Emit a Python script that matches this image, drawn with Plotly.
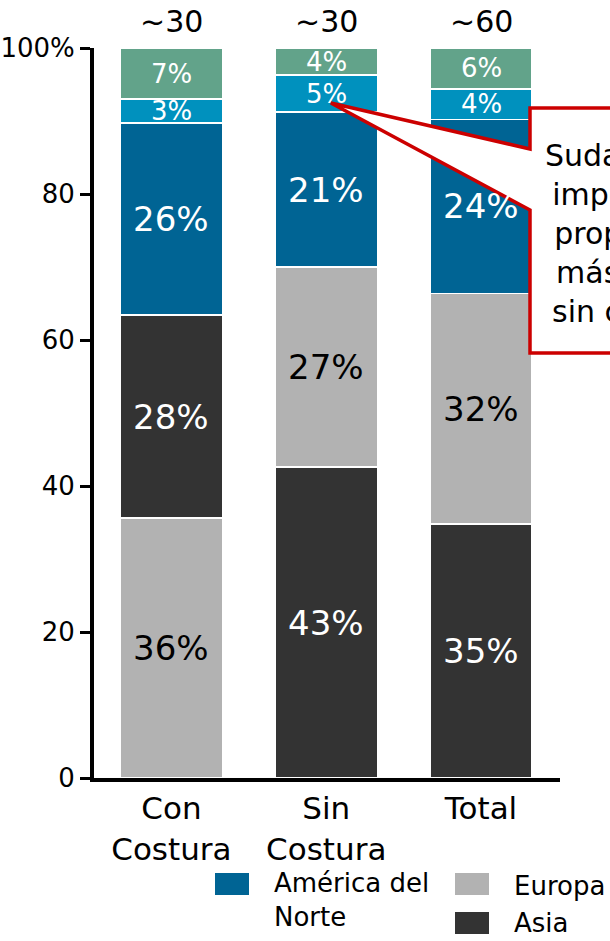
import plotly.graph_objects as go

# --- data -------------------------------------------------------------
categories = ["Con<br>Costura", "Sin<br>Costura", "Total"]
volumes = ["~30", "~30", "~60"]

asia = [27.8, 42.6, 34.8]
europa = [35.6, 27.4, 31.6]
america_norte = [26.3, 21.2, 23.8]
sudamerica = [3.3, 5.1, 4.2]
otros = [7.0, 3.7, 5.6]

# stacking order (bottom to top) for each bar
stack_order = [
    ["Europa", "Asia", "América del Norte", "Sudamérica", "Otros"],
    ["Asia", "Europa", "América del Norte", "Sudamérica", "Otros"],
    ["Asia", "Europa", "América del Norte", "Sudamérica", "Otros"],
]

series = {
    "Asia": asia,
    "Europa": europa,
    "América del Norte": america_norte,
    "Sudamérica": sudamerica,
    "Otros": otros,
}
colors = {
    "Asia": "#333333",
    "Europa": "#B2B2B2",
    "América del Norte": "#006494",
    "Sudamérica": "#0091BE",
    "Otros": "#62A38A",
}
text_colors = {
    "Asia": "white",
    "Europa": "black",
    "América del Norte": "white",
    "Sudamérica": "white",
    "Otros": "white",
}

FONT = "DejaVu Sans"
W, H = 610, 941
L, R, T, B = 94, 50, 48, 163
X_RANGE = [-0.5, 2.51]
Y_RANGE = [0, 100]

fig = go.Figure()
xs = list(range(len(categories)))
annotations = []
shapes = []

# one trace per stacking level, coloured per bar
for level in range(len(stack_order[0])):
    vals, cols = [], []
    for ci in xs:
        name = stack_order[ci][level]
        vals.append(series[name][ci])
        cols.append(colors[name])
    fig.add_trace(go.Bar(
        x=xs, y=vals, width=0.66,
        marker=dict(color=cols, line=dict(color="white", width=1.5)),
        hoverinfo="skip", showlegend=False,
    ))

# segment value labels
for ci in xs:
    base = 0.0
    for name in stack_order[ci]:
        v = series[name][ci]
        annotations.append(dict(
            x=ci, y=base + v / 2, xref="x", yref="y",
            text=f"{round(v)}%", showarrow=False,
            font=dict(family=FONT, size=34 if v >= 10 else 26,
                      color=text_colors[name]),
            xanchor="center", yanchor="middle",
        ))
        base += v

# volume labels above the bars
for ci in xs:
    annotations.append(dict(
        x=ci, y=100, xref="x", yref="y", text=volumes[ci], showarrow=False,
        font=dict(family=FONT, size=30, color="black"),
        xanchor="center", yanchor="middle", yshift=27,
    ))


# helpers: pixel / data positions -> paper fractions
def px_x(p):
    return (p - L) / (W - L - R)


def px_y(p):
    return (H - B - p) / (H - T - B)


def dx(x):
    return (x - X_RANGE[0]) / (X_RANGE[1] - X_RANGE[0])


def dy(y):
    return (y - Y_RANGE[0]) / (Y_RANGE[1] - Y_RANGE[0])


# callout pointing at the Sudamérica share of "Sin Costura"
sin_idx = 1
sud_base = sum(series[n][sin_idx] for n in stack_order[sin_idx][:3])
tip = (dx(1.03), dy(sud_base + 0.25 * sudamerica[sin_idx]))
box_l, box_r = px_x(530), px_x(738)
box_t, box_b = px_y(108), px_y(353)
w_top, w_bot = px_y(149), px_y(210)
path = (f"M {tip[0]},{tip[1]} L {box_l},{w_top} L {box_l},{box_t} "
        f"L {box_r},{box_t} L {box_r},{box_b} L {box_l},{box_b} "
        f"L {box_l},{w_bot} Z")
shapes.append(dict(type="path", xref="paper", yref="paper", path=path,
                   fillcolor="white", line=dict(color="#CC0000", width=3.5),
                   layer="above"))
annotations.append(dict(
    x=px_x(634), y=px_y(233), xref="paper", yref="paper",
    text="Sudamérica<br>importa en<br>proporción<br>más tubos<br>sin costura",
    showarrow=False, align="center", xanchor="center", yanchor="middle",
    font=dict(family=FONT, size=30, color="black"),
))

# legend
legend_items = [
    ("América del Norte", "América del<br>Norte", 215, 873, 900),
    ("Europa", "Europa", 455, 873, 886),
    ("Asia", "Asia", 455, 912, 923),
]
for name, label, sx, sy, ty in legend_items:
    shapes.append(dict(type="rect", xref="paper", yref="paper",
                       x0=px_x(sx), x1=px_x(sx + 34),
                       y0=px_y(sy), y1=px_y(sy + 22),
                       fillcolor=colors[name], line=dict(width=0)))
    annotations.append(dict(
        x=px_x(sx + 57), y=px_y(ty), xref="paper", yref="paper",
        text=label, showarrow=False, align="left",
        xanchor="left", yanchor="middle",
        font=dict(family=FONT, size=26, color="black"),
    ))

fig.update_layout(
    barmode="stack",
    width=W, height=H,
    margin=dict(l=L, r=R, t=T, b=B, pad=0, autoexpand=False),
    paper_bgcolor="white", plot_bgcolor="white",
    font=dict(family=FONT, color="black"),
    annotations=annotations,
    shapes=shapes,
    showlegend=False,
    xaxis=dict(
        range=X_RANGE, tickvals=xs, ticktext=categories,
        showline=True, linecolor="black", linewidth=4,
        ticks="", showgrid=False, zeroline=False, automargin=False,
        tickfont=dict(family=FONT, size=31, color="black"),
        fixedrange=True,
    ),
    yaxis=dict(
        range=Y_RANGE, tickvals=[0, 20, 40, 60, 80, 100],
        ticktext=["0", "20", "40", "60", "80", "100%"],
        showline=True, linecolor="black", linewidth=4,
        ticks="outside", ticklen=10, tickwidth=3, tickcolor="black",
        showgrid=False, zeroline=False, automargin=False,
        tickfont=dict(family=FONT, size=26, color="black"),
        fixedrange=True,
    ),
)

fig.write_html("out.html", config={"displayModeBar": False})
